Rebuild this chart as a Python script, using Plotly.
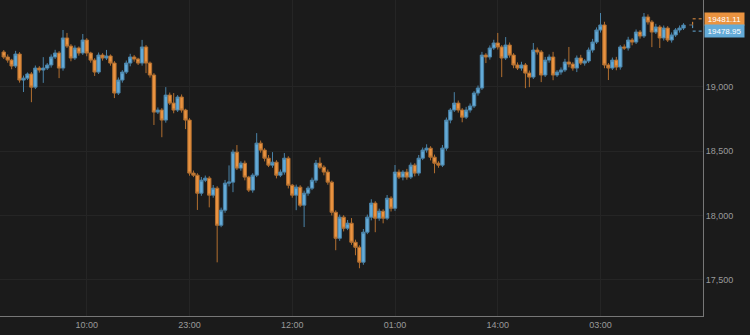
import plotly.graph_objects as go
import pandas as pd

# ---- data ----
start_time = "2024-01-01 23:30"
interval = "30min"
first_open = 19270

close = [
    19231, 19207, 19161, 19254, 19052, 19067, 19099, 18997, 19145, 19130,
    19145, 19169, 19231, 19262, 19145, 19379, 19316, 19223, 19301, 19262,
    19363, 19262, 19207, 19114, 19246, 19223, 19239, 19184, 18951, 19052,
    19114, 19184, 19231, 19215, 19184, 19309, 19184, 19091, 18803, 18819,
    18741, 18935, 18873, 18819, 18920, 18819, 18741, 18329, 18313, 18173,
    18274, 18290, 18158, 18212, 17924, 18041, 18251, 18259, 18492, 18368,
    18406, 18298, 18197, 18313, 18562, 18508, 18445, 18391, 18414, 18313,
    18337, 18445, 18235, 18158, 18220, 18080, 18173, 18212, 18274, 18406,
    18375, 18337, 18259, 18025, 17823, 17987, 17901, 17940, 17792, 17753,
    17637, 17870, 17987, 18096, 17979, 18033, 17979, 18134, 18056, 18337,
    18298, 18337, 18298, 18391, 18329, 18445, 18508, 18523, 18453, 18406,
    18391, 18523, 18741, 18819, 18873, 18819, 18764, 18819, 18850, 18951,
    18990, 19246, 19231, 19301, 19340, 19309, 19223, 19324, 19246, 19169,
    19145, 19169, 19106, 19075, 19285, 19270, 19091, 19207, 19231, 19091,
    19114, 19130, 19192, 19176, 19145, 19223, 19184, 19200, 19285, 19347,
    19441, 19480, 19169, 19145, 19207, 19153, 19309, 19301, 19363, 19347,
    19425, 19394, 19542, 19503, 19425, 19464, 19379, 19456, 19363, 19402,
    19441, 19456, 19478.95,
]

upper_wick = [
    15, 20, 10, 25, 15, 20, 12, 15, 20, 15,
    85, 15, 20, 25, 15, 62, 39, 15, 20, 12,
    47, 15, 10, 15, 20, 15, 47, 12, 15, 20,
    15, 20, 25, 15, 10, 55, 15, 12, 15, 20,
    15, 62, 20, 78, 15, 20, 10, 15, 20, 15,
    25, 20, 15, 25, 15, 20, 25, 130, 20, 55,
    15, 20, 10, 15, 78, 20, 15, 25, 78, 15,
    20, 40, 15, 10, 20, 15, 20, 15, 20, 25,
    45, 15, 20, 12, 15, 20, 15, 25, 40, 20,
    15, 25, 20, 30, 15, 20, 15, 25, 15, 55,
    20, 15, 25, 20, 15, 25, 20, 30, 15, 20,
    15, 25, 20, 15, 85, 20, 15, 25, 20, 15,
    20, 25, 15, 20, 25, 78, 15, 62, 20, 15,
    20, 25, 15, 20, 55, 20, 15, 25, 20, 40,
    15, 20, 25, 117, 15, 20, 25, 15, 20, 25,
    20, 93, 25, 15, 20, 25, 15, 20, 25, 15,
    20, 15, 31, 20, 15, 25, 15, 20, 15, 20,
    15, 20, 15,
]

lower_wick = [
    15, 20, 25, 15, 20, 93, 15, 117, 15, 20,
    100, 15, 20, 15, 78, 20, 15, 25, 15, 20,
    15, 25, 20, 30, 15, 20, 15, 20, 39, 15,
    20, 15, 25, 20, 15, 20, 78, 20, 100, 15,
    133, 20, 15, 25, 15, 20, 70, 20, 15, 130,
    20, 15, 95, 20, 288, 15, 20, 25, 78, 15,
    20, 25, 15, 20, 15, 20, 25, 15, 20, 25,
    15, 20, 25, 20, 117, 15, 170, 20, 15, 20,
    15, 25, 20, 25, 93, 20, 25, 15, 20, 62,
    47, 20, 15, 25, 109, 20, 40, 15, 25, 20,
    15, 25, 20, 15, 25, 20, 15, 20, 25, 78,
    20, 15, 20, 25, 15, 20, 40, 15, 20, 15,
    20, 15, 47, 20, 15, 20, 148, 15, 20, 25,
    15, 20, 117, 78, 15, 20, 55, 15, 20, 40,
    15, 20, 15, 25, 20, 31, 15, 20, 15, 20,
    15, 20, 25, 93, 15, 25, 20, 15, 20, 25,
    15, 20, 15, 20, 117, 15, 78, 20, 15, 20,
    15, 20, 15,
]

ask_price = 19481.11
bid_price = 19478.95
y_tick_values = [17500, 18000, 18500, 19000]

# ---- build OHLC ----
times = pd.date_range(start_time, periods=len(close), freq=interval)
open_ = [first_open] + close[:-1]
high = [max(o, c) + u for o, c, u in zip(open_, close, upper_wick)]
low = [min(o, c) - l for o, c, l in zip(open_, close, lower_wick)]

BLUE = "#64abd8"
ORANGE = "#ea9340"

fig = go.Figure(
    go.Candlestick(
        x=times, open=open_, high=high, low=low, close=close,
        increasing=dict(line=dict(color="#4a83a8", width=1), fillcolor=BLUE),
        decreasing=dict(line=dict(color="#b26f30", width=1), fillcolor=ORANGE),
        whiskerwidth=0, showlegend=False, hoverinfo="skip",
    )
)

fig.update_layout(
    width=750, height=335,
    margin=dict(l=0, r=47, t=0, b=19),
    paper_bgcolor="#1b1b1b", plot_bgcolor="#1b1b1b",
    boxgap=0, boxgroupgap=0.15,
    font=dict(family="Liberation Sans, Arial, sans-serif", size=9, color="#9a9a9a"),
    showlegend=False,
)

fig.update_xaxes(
    type="date",
    range=["2024-01-01 23:01:30", "2024-01-05 15:58:00"],
    tick0="2024-01-02 10:00", dtick=13 * 3600 * 1000, tickformat="%H:%M",
    showgrid=True, gridcolor="#252525", gridwidth=1,
    showline=True, linecolor="#777777", linewidth=1,
    ticks="", zeroline=False,
    rangeslider=dict(visible=False),
)
fig.update_yaxes(
    side="right", range=[17219, 19674],
    tickvals=y_tick_values, tickformat=",",
    showgrid=True, gridcolor="#252525", gridwidth=1,
    showline=True, linecolor="#777777", linewidth=1,
    ticks="", zeroline=False,
)

# price labels at the right edge
for price, shift, col in [(ask_price, 6, ORANGE), (bid_price, -6, BLUE)]:
    fig.add_annotation(
        xref="paper", x=1, xanchor="left", xshift=1,
        yref="y", y=price, yanchor="middle", yshift=shift,
        text=f"{price:.2f}", showarrow=False,
        bgcolor=col, width=37, height=10,
        font=dict(color="white", size=8, family="Liberation Sans, Arial, sans-serif"),
    )
    # horizontal dotted lead to the label
    fig.add_shape(
        type="line", xref="paper", x0=0.9853, x1=1.0,
        yref="y", ysizemode="pixel", yanchor=price, y0=shift, y1=shift,
        line=dict(color=col, width=1, dash="dot"),
    )
    # vertical dotted bracket
    fig.add_shape(
        type="line", xref="paper", x0=0.9853, x1=0.9853,
        yref="y", ysizemode="pixel", yanchor=price, y0=0, y1=shift,
        line=dict(color=col, width=1, dash="dot"),
    )

fig.add_shape(
    type="line", xref="paper", x0=0.9805, x1=0.9845,
    yref="y", ysizemode="pixel", yanchor=(ask_price + bid_price) / 2, y0=0, y1=0,
    line=dict(color="#6e6e6e", width=1),
)

fig.write_html("out.html")
